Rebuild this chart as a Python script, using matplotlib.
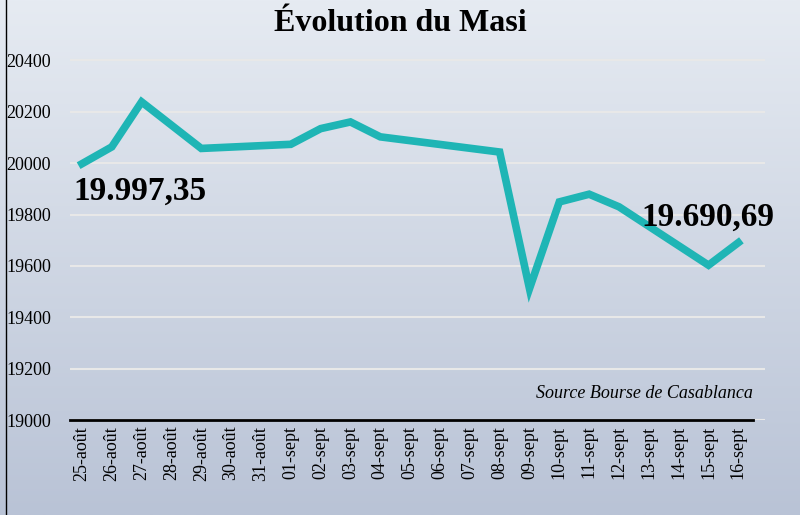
import numpy as np
import matplotlib.pyplot as plt

# tick labels (every calendar day) and data points (trading days only)
dates = ['25-août', '26-août', '27-août', '28-août', '29-août', '30-août', '31-août',
         '01-sept', '02-sept', '03-sept', '04-sept', '05-sept', '06-sept', '07-sept',
         '08-sept', '09-sept', '10-sept', '11-sept', '12-sept', '13-sept', '14-sept',
         '15-sept', '16-sept']
pt_idx = [0, 1, 2, 4, 7, 8, 9, 10, 14, 15, 16, 17, 18, 21, 22]
masi = [19997.35, 20063, 20238, 20057, 20073, 20134, 20160, 20102, 20043,
        19512, 19849, 19879, 19830, 19603, 19690.69]
yticks = [19000, 19200, 19400, 19600, 19800, 20000, 20200, 20400]

plt.rcParams['font.family'] = ['Liberation Serif', 'DejaVu Serif']

fig = plt.figure(figsize=(8, 5.15), dpi=100)

# soft background standing in for the photo
bg = fig.add_axes([0, 0, 1, 1])
grad = np.linspace(0, 1, 256)[:, None]
bg.imshow(grad, cmap=plt.cm.colors.LinearSegmentedColormap.from_list('s', ['#e6ebf2', '#b9c3d6']),
          aspect='auto', extent=[0, 1, 0, 1])
bg.axvline(0.007, color='black', lw=1)
bg.set_axis_off()

ax = fig.add_axes([0.0875, 0.184, 0.869, 0.738])
ax.patch.set_alpha(0)
ax.plot(pt_idx, masi, color='#1fb5b5', lw=5.5, solid_joinstyle='miter', zorder=3)
ax.set_xlim(-0.4, 22.9)
ax.set_ylim(19000, 20478)
ax.set_yticks(yticks)
ax.set_yticklabels([str(v) for v in yticks], fontsize=13, ha='left')
ax.tick_params(axis='y', length=0, pad=46)
ax.set_xticks(range(len(dates)))
ax.set_xticklabels(dates, rotation=90, fontsize=13)
ax.tick_params(axis='x', length=0, pad=4)
for s in ['top', 'right', 'left']:
    ax.spines[s].set_visible(False)
ax.spines['bottom'].set_linewidth(2)
ax.spines['bottom'].set_bounds(-0.4, 22.5)
ax.grid(axis='y', color='#e8e8e8', lw=1.5, zorder=1)
ax.set_axisbelow(True)

ax.text(-0.3, 19950, '19.997,35', fontsize=24, fontweight='bold', va='top', ha='left')
ax.text(23.2, 19730, '19.690,69', fontsize=24, fontweight='bold', va='bottom', ha='right')
ax.text(22.5, 19070, 'Source Bourse de Casablanca', fontsize=13, style='italic', ha='right', va='bottom')

fig.text(0.5, 0.955, 'Évolution du Masi', fontsize=23, fontweight='bold', ha='center', va='center')

fig.savefig('out.png', dpi=100)
